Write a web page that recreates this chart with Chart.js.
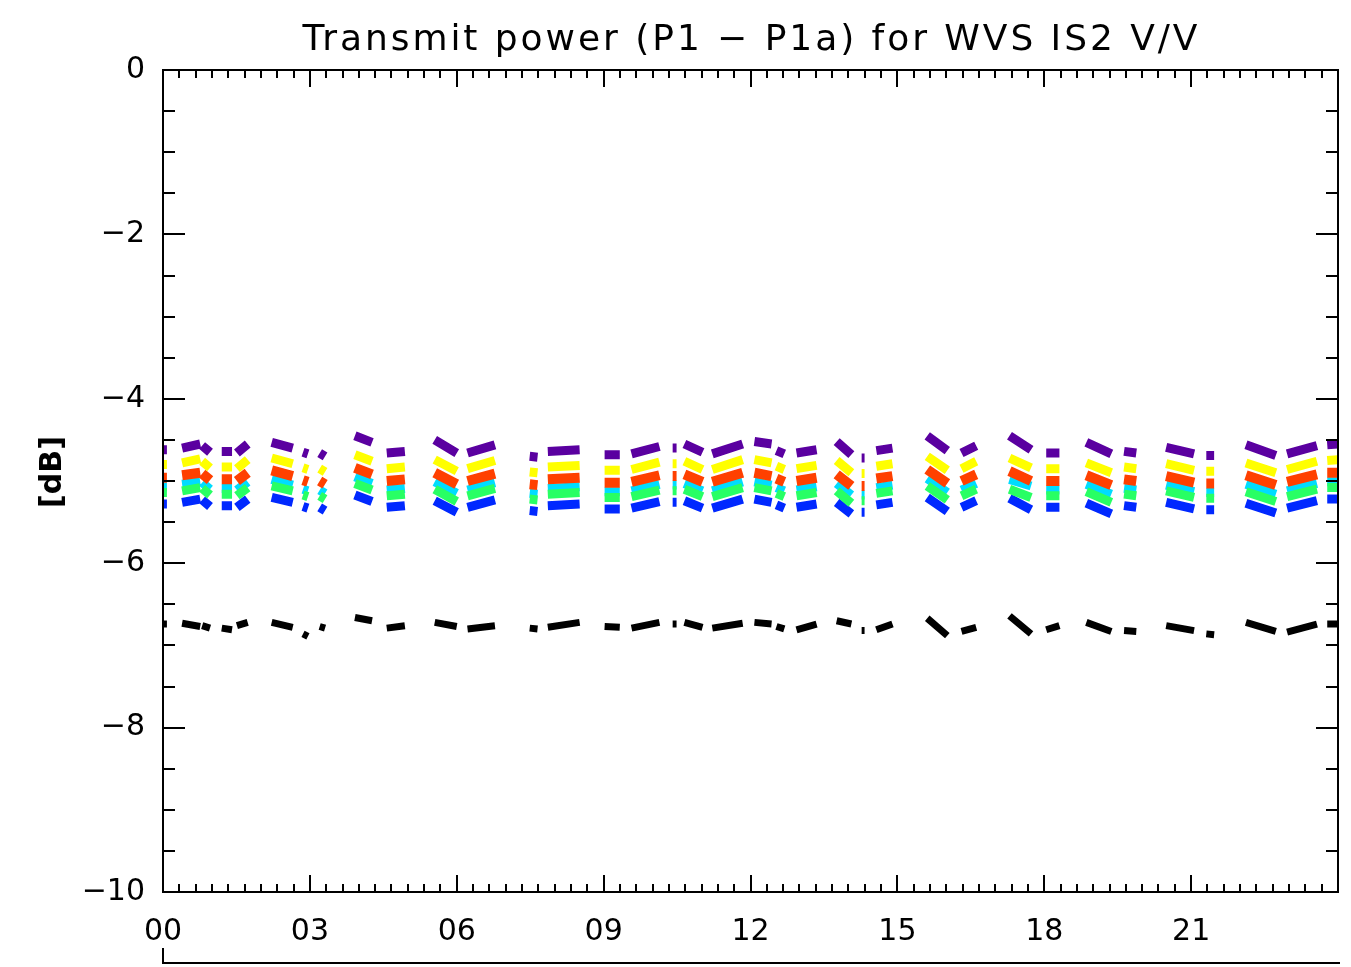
<!DOCTYPE html>
<html>
<head>
<meta charset="utf-8">
<script src="https://cdn.jsdelivr.net/npm/chart.js@4.4.1/dist/chart.umd.min.js"></script>
<style>
  html, body { margin: 0; padding: 0; background: #fff; }
  #wrap { width: 1351px; height: 967px; }
</style>
</head>
<body>
<div id="wrap"><canvas id="chart1"></canvas></div>
<script>
// orbit segments (hours of day)
const segStart = [0.00,0.39,0.80,1.20,1.51,2.22,2.86,3.20,3.92,4.57,5.55,6.22,7.49,7.86,9.02,9.57,10.41,10.65,11.22,12.08,12.53,12.94,13.76,14.27,14.57,15.61,16.31,17.29,18.04,18.86,19.63,20.49,21.31,22.12,22.96,23.78];
const segEnd   = [0.08,0.76,0.96,1.41,1.73,2.65,2.96,3.31,4.27,4.94,6.00,6.78,7.65,8.51,9.33,10.14,10.49,11.02,11.84,12.43,12.69,13.35,14.06,14.33,14.90,16.02,16.61,17.73,18.31,19.37,19.88,21.06,21.47,22.73,23.57,24.00];

// [dB] at start / end of each segment
const purple = [[-4.62,-4.62],[-4.60,-4.55],[-4.57,-4.65],[-4.64,-4.64],[-4.66,-4.55],[-4.53,-4.60],[-4.65,-4.67],[-4.66,-4.70],[-4.45,-4.53],[-4.66,-4.64],[-4.50,-4.66],[-4.66,-4.56],[-4.70,-4.71],[-4.64,-4.62],[-4.68,-4.68],[-4.67,-4.58],[-4.60,-4.60],[-4.55,-4.65],[-4.67,-4.55],[-4.52,-4.55],[-4.63,-4.67],[-4.66,-4.62],[-4.52,-4.68],[-4.72,-4.72],[-4.63,-4.60],[-4.45,-4.63],[-4.66,-4.57],[-4.45,-4.62],[-4.66,-4.66],[-4.53,-4.67],[-4.64,-4.66],[-4.59,-4.67],[-4.69,-4.69],[-4.56,-4.69],[-4.67,-4.57],[-4.56,-4.55]];
const yellow = [[-4.80,-4.80],[-4.78,-4.73],[-4.76,-4.84],[-4.83,-4.83],[-4.85,-4.74],[-4.72,-4.79],[-4.84,-4.86],[-4.85,-4.89],[-4.68,-4.76],[-4.85,-4.83],[-4.74,-4.88],[-4.85,-4.75],[-4.89,-4.90],[-4.83,-4.81],[-4.87,-4.87],[-4.86,-4.77],[-4.79,-4.79],[-4.76,-4.86],[-4.86,-4.74],[-4.74,-4.78],[-4.82,-4.86],[-4.85,-4.81],[-4.75,-4.90],[-4.91,-4.91],[-4.82,-4.79],[-4.70,-4.87],[-4.85,-4.76],[-4.72,-4.84],[-4.85,-4.85],[-4.78,-4.90],[-4.83,-4.85],[-4.79,-4.87],[-4.88,-4.88],[-4.78,-4.90],[-4.86,-4.76],[-4.75,-4.74]];
const red    = [[-4.96,-4.96],[-4.93,-4.90],[-4.91,-4.99],[-4.98,-4.98],[-5.00,-4.90],[-4.87,-4.94],[-4.99,-5.01],[-5.00,-5.04],[-4.84,-4.92],[-5.00,-4.98],[-4.90,-5.04],[-5.00,-4.91],[-5.04,-5.05],[-4.98,-4.96],[-5.02,-5.02],[-5.01,-4.93],[-4.94,-4.94],[-4.92,-5.01],[-5.01,-4.90],[-4.90,-4.94],[-4.97,-5.01],[-5.00,-4.96],[-4.92,-5.06],[-5.06,-5.06],[-4.97,-4.94],[-4.86,-5.03],[-5.00,-4.92],[-4.88,-5.00],[-5.00,-5.00],[-4.93,-5.05],[-4.98,-5.00],[-4.94,-5.02],[-5.03,-5.03],[-4.93,-5.05],[-5.01,-4.92],[-4.90,-4.90]];
const cyan   = [[-5.07,-5.07],[-5.04,-5.01],[-5.02,-5.10],[-5.09,-5.09],[-5.11,-5.01],[-4.98,-5.05],[-5.10,-5.12],[-5.11,-5.15],[-4.95,-5.03],[-5.11,-5.09],[-5.01,-5.15],[-5.11,-5.02],[-5.15,-5.16],[-5.09,-5.07],[-5.13,-5.13],[-5.12,-5.04],[-5.05,-5.05],[-5.03,-5.12],[-5.12,-5.01],[-5.01,-5.05],[-5.08,-5.12],[-5.11,-5.07],[-5.03,-5.17],[-5.17,-5.17],[-5.08,-5.05],[-4.97,-5.14],[-5.11,-5.03],[-4.98,-5.06],[-5.11,-5.11],[-5.04,-5.16],[-5.09,-5.11],[-5.05,-5.13],[-5.14,-5.14],[-5.04,-5.16],[-5.12,-5.03],[-5.01,-5.01]];
const green  = [[-5.14,-5.14],[-5.12,-5.08],[-5.09,-5.17],[-5.16,-5.16],[-5.18,-5.08],[-5.06,-5.12],[-5.17,-5.19],[-5.18,-5.22],[-5.03,-5.11],[-5.18,-5.16],[-5.10,-5.25],[-5.18,-5.09],[-5.22,-5.23],[-5.16,-5.14],[-5.20,-5.20],[-5.19,-5.11],[-5.12,-5.12],[-5.10,-5.19],[-5.19,-5.08],[-5.08,-5.12],[-5.15,-5.19],[-5.18,-5.14],[-5.12,-5.27],[-5.24,-5.24],[-5.15,-5.12],[-5.06,-5.23],[-5.18,-5.10],[-5.10,-5.20],[-5.18,-5.18],[-5.13,-5.26],[-5.16,-5.18],[-5.12,-5.20],[-5.21,-5.21],[-5.13,-5.25],[-5.19,-5.10],[-5.08,-5.08]];
const blue   = [[-5.28,-5.28],[-5.26,-5.22],[-5.23,-5.31],[-5.30,-5.30],[-5.32,-5.22],[-5.20,-5.26],[-5.31,-5.33],[-5.32,-5.36],[-5.17,-5.25],[-5.32,-5.30],[-5.24,-5.38],[-5.32,-5.23],[-5.36,-5.37],[-5.30,-5.28],[-5.34,-5.34],[-5.33,-5.25],[-5.26,-5.26],[-5.24,-5.33],[-5.33,-5.22],[-5.22,-5.26],[-5.29,-5.33],[-5.32,-5.28],[-5.26,-5.40],[-5.38,-5.38],[-5.29,-5.26],[-5.20,-5.37],[-5.32,-5.24],[-5.21,-5.35],[-5.32,-5.32],[-5.27,-5.40],[-5.30,-5.32],[-5.26,-5.34],[-5.35,-5.35],[-5.27,-5.39],[-5.33,-5.24],[-5.22,-5.22]];
const black  = [[-6.74,-6.74],[-6.73,-6.77],[-6.76,-6.79],[-6.79,-6.81],[-6.76,-6.72],[-6.72,-6.78],[-6.86,-6.89],[-6.77,-6.79],[-6.66,-6.70],[-6.79,-6.76],[-6.72,-6.77],[-6.80,-6.76],[-6.79,-6.80],[-6.78,-6.72],[-6.77,-6.78],[-6.79,-6.72],[-6.74,-6.74],[-6.72,-6.78],[-6.79,-6.73],[-6.72,-6.74],[-6.77,-6.80],[-6.81,-6.74],[-6.70,-6.74],[-6.82,-6.82],[-6.81,-6.74],[-6.67,-6.88],[-6.83,-6.78],[-6.64,-6.86],[-6.81,-6.76],[-6.72,-6.83],[-6.82,-6.83],[-6.76,-6.82],[-6.86,-6.87],[-6.72,-6.83],[-6.84,-6.74],[-6.74,-6.74]];

const xTicks = [0, 3, 6, 9, 12, 15, 18, 21];
const yTicks = [0, -2, -4, -6, -8, -10];

// turn segment pairs into points, with a null between orbits so the line breaks
function toPoints(vals) {
  const pts = [];
  for (let i = 0; i < segStart.length; i++) {
    pts.push({ x: segStart[i], y: vals[i][0] });
    pts.push({ x: segEnd[i], y: vals[i][1] });
    if (i < segStart.length - 1) pts.push({ x: (segEnd[i] + segStart[i + 1]) / 2, y: null });
  }
  return pts;
}

function band(label, vals, color, width) {
  return {
    label: label,
    data: toPoints(vals),
    borderColor: color,
    backgroundColor: color,
    borderWidth: width,
    pointRadius: 0,
    spanGaps: false,
    tension: 0
  };
}

const FONT = '"DejaVu Sans", "Liberation Sans", sans-serif';

// frame, inward ticks, title and extra axis line
const idlFrame = {
  id: 'idlFrame',
  afterDraw(chart) {
    const { ctx, chartArea: a, scales } = chart;
    const xs = scales.x, ys = scales.y;
    ctx.save();
    ctx.strokeStyle = '#000';
    ctx.lineWidth = 2;
    ctx.strokeRect(a.left, a.top, a.right - a.left, a.bottom - a.top);

    ctx.lineWidth = 2;
    ctx.beginPath();
    for (let k = 0; k <= 72; k++) {
      const px = Math.round(xs.getPixelForValue(k / 3));
      const len = (k % 9 === 0) ? 17 : 8;
      ctx.moveTo(px, a.bottom); ctx.lineTo(px, a.bottom - len);
      ctx.moveTo(px, a.top); ctx.lineTo(px, a.top + len);
    }
    for (let k = 0; k <= 20; k++) {
      const py = Math.round(ys.getPixelForValue(-k / 2));
      const len = (k % 4 === 0) ? 22 : 12;
      ctx.moveTo(a.left, py); ctx.lineTo(a.left + len, py);
      ctx.moveTo(a.right, py); ctx.lineTo(a.right - len, py);
    }
    ctx.stroke();

    // second time axis below
    ctx.beginPath();
    ctx.moveTo(a.left, 948); ctx.lineTo(a.left, 963); ctx.lineTo(a.right + 2, 963);
    ctx.stroke();

    // title
    const title = 'Transmit power (P1 \u2212 P1a) for WVS IS2 V/V';
    ctx.fillStyle = '#000';
    ctx.font = '36px ' + FONT;
    ctx.textBaseline = 'alphabetic';
    ctx.textAlign = 'left';
    const w = ctx.measureText(title).width;
    const target = 895;
    const sp = (target - w) / (title.length - 1);
    if ('letterSpacing' in ctx) {
      ctx.letterSpacing = sp + 'px';
      ctx.fillText(title, 750 - target / 2, 50);
      ctx.letterSpacing = '0px';
    } else {
      ctx.textAlign = 'center';
      ctx.fillText(title, 750, 50);
    }

    // y axis label
    ctx.save();
    ctx.translate(53, 472);
    ctx.rotate(-Math.PI / 2);
    ctx.font = 'bold 30px ' + FONT;
    ctx.textAlign = 'center';
    ctx.textBaseline = 'middle';
    ctx.fillText('[dB]', 0, 0);
    ctx.restore();
    ctx.restore();
  }
};

const tp_config = {
  type: 'line',
  data: {
    datasets: [
      band('black', black, '#000000', 7),
      band('purple', purple, 'rgb(90,0,160)', 9),
      band('yellow', yellow, 'rgb(255,255,0)', 9),
      band('red', red, 'rgb(255,64,0)', 10),
      band('green', green, 'rgb(40,255,100)', 9),
      band('cyan', cyan, 'rgb(0,220,255)', 9),
      band('blue', blue, 'rgb(0,40,255)', 9)
    ]
  },
  options: {
    responsive: false,
    animation: false,
    devicePixelRatio: 1,
    layout: { padding: { top: 70, right: 13, left: 0, bottom: 0 } },
    plugins: { legend: { display: false }, tooltip: { enabled: false }, title: { display: false } },
    scales: {
      x: {
        type: 'linear',
        min: 0, max: 24,
        afterBuildTicks: (s) => { s.ticks = xTicks.map(v => ({ value: v })); },
        afterFit: (s) => { s.height = 75; },
        grid: { display: false },
        border: { display: false },
        ticks: {
          autoSkip: false, maxRotation: 0, padding: 14,
          color: '#000', font: { family: FONT, size: 30 },
          callback: (v) => String(v).padStart(2, '0')
        }
      },
      y: {
        type: 'linear',
        min: -10, max: 0,
        afterBuildTicks: (s) => { s.ticks = yTicks.map(v => ({ value: v })); },
        afterFit: (s) => { s.width = 163; },
        grid: { display: false },
        border: { display: false },
        ticks: {
          padding: 10,
          color: '#000', font: { family: FONT, size: 30 },
          callback: (v) => String(v).replace('-', '\u2212')
        }
      }
    }
  },
  plugins: [idlFrame]
};

const cv = document.getElementById('chart1');
cv.width = 1351; cv.height = 967;
const tp_chart = new Chart(cv, tp_config);
</script>
</body>
</html>
